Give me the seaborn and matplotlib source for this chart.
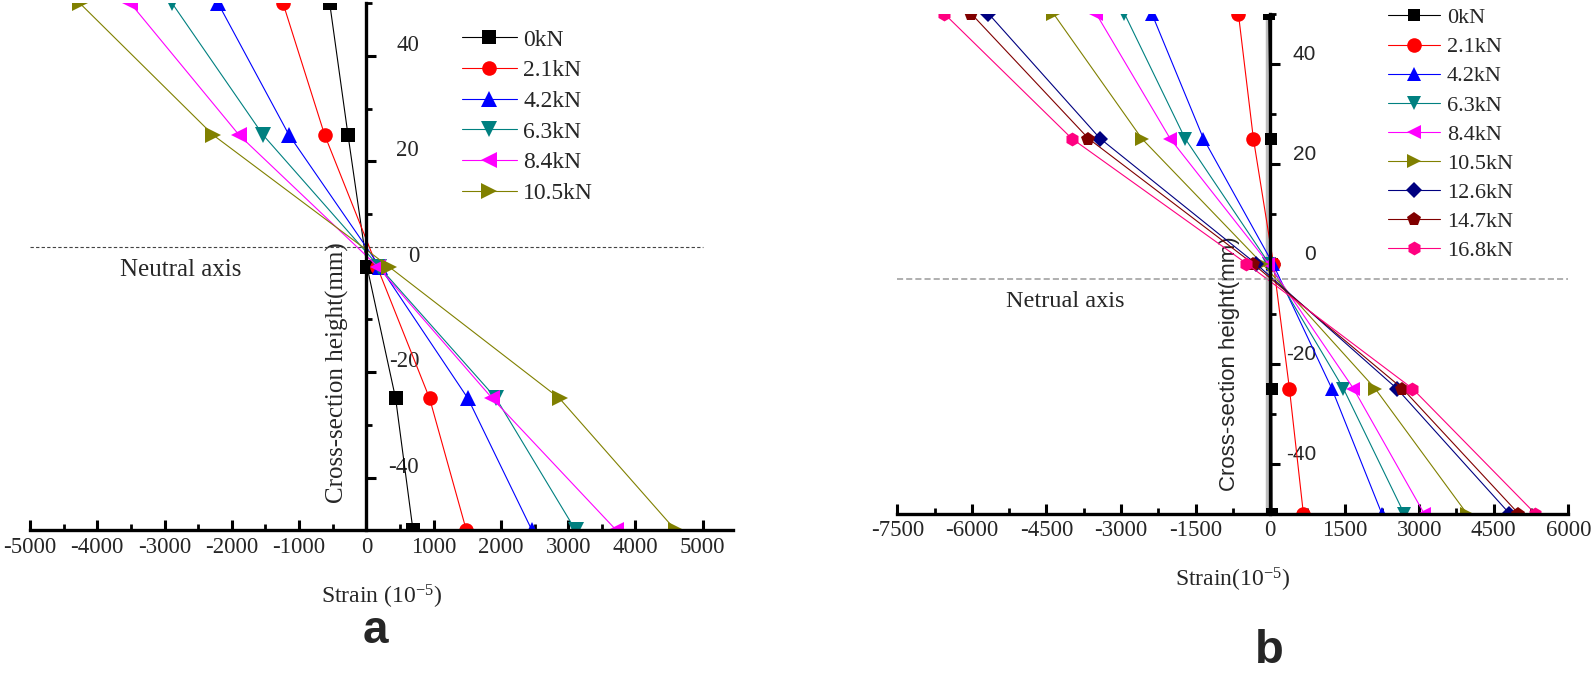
import numpy as np
import pandas as pd
import matplotlib
matplotlib.use('Agg')
import matplotlib.pyplot as plt
import seaborn as sns
from matplotlib.ticker import MultipleLocator
from matplotlib.transforms import offset_copy

# cross-section heights (mm), same for all series
heights = [50, 25, 0, -25, -50]

# panel a: strain (1e-5) at each height
loads_a = ['0kN', '2.1kN', '4.2kN', '6.3kN', '8.4kN', '10.5kN']
strain_a_0 = [-545, -273, 10, 435, 693]
strain_a_21 = [-1239, -620, 160, 940, 1486]
strain_a_42 = [-2205, -1150, 200, 1510, 2461]
strain_a_63 = [-2888, -1536, 190, 1930, 3110]
strain_a_84 = [-3507, -1893, 170, 1872, 3715]
strain_a_105 = [-4260, -2279, 336, 2872, 4596]

# panel b
loads_b = ['0kN', '2.1kN', '4.2kN', '6.3kN', '8.4kN', '10.5kN', '12.6kN', '14.7kN', '16.8kN']
strain_b_0 = [-30, 10, 30, 34, 40]
strain_b_21 = [-638, -336, 67, 389, 670]
strain_b_42 = [-2380, -1342, 54, 1241, 2247]
strain_b_63 = [-2931, -1710, -20, 1475, 2696]
strain_b_84 = [-3501, -2012, -34, 1677, 3099]
strain_b_105 = [-4360, -2582, -160, 2113, 3958]
strain_b_126 = [-5668, -3420, -290, 2549, 4815]
strain_b_147 = [-6016, -3655, -350, 2662, 4996]
strain_b_168 = [-6559, -3990, -475, 2863, 5332]

neutral_a = 3.8
neutral_b = -3.0

colors = ['black', 'red', 'blue', '#008080', 'magenta', '#808000', '#000080', '#800000', '#FF0080']
markers = ['s', 'o', '^', 'v', '<', '>', 'D', 'p', 'h']
msizes_a = [10, 10.5, 11, 11, 11, 11]
msizes_b = [8, 10.5, 9.5, 9.5, 9.5, 9.5, 8.5, 10, 10]

W, H = 1594, 678

sns.set_style('white')
plt.rcParams['font.family'] = ['Liberation Serif', 'DejaVu Serif']
plt.rcParams['axes.unicode_minus'] = False
plt.rcParams['mathtext.fontset'] = 'custom'
plt.rcParams['mathtext.rm'] = 'Liberation Serif'
plt.rcParams['mathtext.it'] = 'Liberation Serif:italic'

fig = plt.figure(figsize=(W / 100, H / 100), dpi=100)
ax_a = fig.add_axes([30 / W, 1 - 530.2 / H, 703 / W, 527 / H])
ax_b = fig.add_axes([897.3 / W, 1 - 513.5 / H, 671 / W, 500 / H])


def draw_series(ax, loads, series, sizes):
    for lab, xs, c, m, ms in zip(loads, series, colors, markers, sizes):
        sns.lineplot(x=xs, y=heights, sort=False, estimator=None, errorbar=None,
                     ax=ax, color=c, marker=m, markersize=ms, markeredgewidth=0,
                     markeredgecolor=c, linewidth=0.8, label=lab)


def style_axes(ax, xlim, xmajor, ylab_font, ylab_size, ypad):
    ax.set_xlim(xlim)
    ax.set_ylim(-50, 50)
    ax.spines['top'].set_visible(False)
    ax.spines['left'].set_visible(False)
    ax.spines['right'].set_position(('data', 0))
    for s in ['right', 'bottom']:
        ax.spines[s].set_linewidth(2.4)
        ax.spines[s].set_color('black')
    ax.yaxis.set_ticks_position('right')
    ax.xaxis.set_ticks_position('bottom')
    ax.set_xticks(np.arange(xlim[0], xlim[1] + 1, xmajor))
    ax.xaxis.set_minor_locator(MultipleLocator(xmajor / 2))
    ax.set_yticks([-40, -20, 0, 20, 40])
    ax.yaxis.set_minor_locator(MultipleLocator(10))
    ax.tick_params(axis='x', which='major', direction='in', length=7, width=2.2,
                   pad=5, labelsize=16.5, color='black')
    ax.tick_params(axis='x', which='minor', direction='in', length=4, width=2.0, color='black')
    ax.tick_params(axis='y', which='major', direction='out', length=7, width=2.2,
                   pad=ypad, labelsize=ylab_size, labelfontfamily=ylab_font, color='black')
    ax.tick_params(axis='y', which='minor', direction='out', length=4, width=2.0, color='black')
    for t in ax.get_yticklabels():
        t.set_ha('right')
        t.set_va('bottom')
    ax.grid(False)


# panel a
draw_series(ax_a, loads_a, [strain_a_0, strain_a_21, strain_a_42, strain_a_63,
                            strain_a_84, strain_a_105], msizes_a)
ax_a.hlines(neutral_a, -5000, 5000, colors='#444444', linestyles=(0, (3, 2)), linewidth=0.8)
style_axes(ax_a, (-5000, 5450), 1000, 'Liberation Serif', 16.5, 31)
ax_a.text(-2760, -1.8, 'Neutral axis', ha='center', va='baseline', fontsize=18)
ax_a.set_ylabel('Cross-section height(mm)', fontsize=18)
ax_a.yaxis.set_label_coords(349 / W, 1 - 372.5 / H, transform=fig.transFigure)
ax_a.set_xlabel('Strain (10$^{-5}$)', fontsize=17)
ax_a.xaxis.label.set_va('baseline')
ax_a.xaxis.set_label_coords(382 / W, 1 - 604 / H, transform=fig.transFigure)
h, l = ax_a.get_legend_handles_labels()
ax_a.legend(h, l, loc='upper left', bbox_to_anchor=(461.7 / W, 1 - 29 / H),
            bbox_transform=fig.transFigure, frameon=False, fontsize=17,
            handlelength=2.33, handletextpad=0.28, labelspacing=0.39,
            borderpad=0, borderaxespad=0, numpoints=1)

# panel b
draw_series(ax_b, loads_b, [strain_b_0, strain_b_21, strain_b_42, strain_b_63,
                            strain_b_84, strain_b_105, strain_b_126, strain_b_147,
                            strain_b_168], msizes_b)
ax_b.hlines(neutral_b, -7500, 6000, colors='#9a9a9a', linestyles=(0, (4, 2)), linewidth=1.1)
stripe = ax_b.axvline(0, color='#bdbdbd', lw=2.5, zorder=1)
stripe.set_transform(offset_copy(ax_b.get_xaxis_transform(), fig=fig, x=-3, y=0, units='dots'))
style_axes(ax_b, (-7500, 6000), 1500, 'Liberation Sans', 15, 26)
ax_b.text(-4120, -8.7, 'Netrual axis', ha='center', va='baseline', fontsize=17.5)
ax_b.set_ylabel('Cross-section height(mm)', fontsize=16, family='Liberation Sans')
ax_b.yaxis.set_label_coords(1239.7 / W, 1 - 364 / H, transform=fig.transFigure)
ax_b.set_xlabel('Strain(10$^{-5}$)', fontsize=17)
ax_b.xaxis.label.set_va('baseline')
ax_b.xaxis.set_label_coords(1233 / W, 1 - 587 / H, transform=fig.transFigure)
h, l = ax_b.get_legend_handles_labels()
ax_b.legend(h, l, loc='upper left', bbox_to_anchor=(1388.3 / W, 1 - 7.7 / H),
            bbox_transform=fig.transFigure, frameon=False, fontsize=16,
            handlelength=2.33, handletextpad=0.3, labelspacing=0.385,
            borderpad=0, borderaxespad=0, numpoints=1)

fig.text(375.8 / W, 1 - 643 / H, 'a', ha='center', va='baseline', fontsize=33,
         fontweight='bold', family='Liberation Sans')
fig.text(1269.5 / W, 1 - 663 / H, 'b', ha='center', va='baseline', fontsize=34,
         fontweight='bold', family='Liberation Sans')

fig.savefig('out.png', dpi=100)
